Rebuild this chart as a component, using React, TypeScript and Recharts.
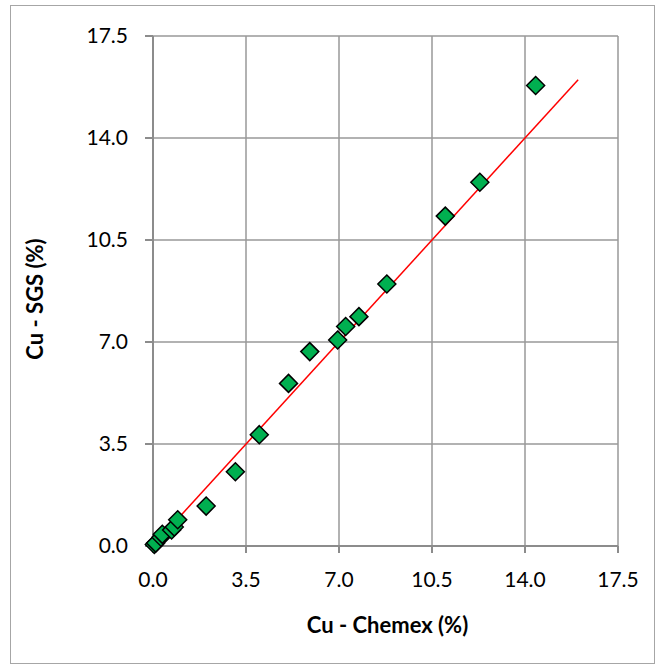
import React from "react"
import { ScatterChart, Scatter, XAxis, YAxis, CartesianGrid } from "recharts"

// Cu assays, Chemex (x) vs SGS (y), in %
const chemex = [0.05, 0.1, 0.3, 0.35, 0.7, 0.8, 0.93, 2.0, 3.1, 4.0, 5.1, 5.9, 6.95, 7.25, 7.75, 8.8, 11.0, 12.3, 14.4]
const sgs = [0.05, 0.1, 0.3, 0.4, 0.55, 0.65, 0.9, 1.37, 2.55, 3.82, 5.58, 6.67, 7.07, 7.53, 7.87, 8.99, 11.32, 12.48, 15.8]
const ticks = [0, 3.5, 7, 10.5, 14, 17.5]
const lineX = [0, 16]

const points = chemex.map((x, i) => ({ x, y: sgs[i] }))
const lineData = lineX.map((v) => ({ x: v, y: v }))

const FONT = "Lato, 'Open Sans', sans-serif"

const Diamond = (props: any) => {
  const { cx, cy } = props
  const r = 9
  return (
    <polygon
      points={`${cx},${cy - r} ${cx + r},${cy} ${cx},${cy + r} ${cx - r},${cy}`}
      fill="#00B050"
      stroke="#000"
      strokeWidth={1.5}
    />
  )
}

const YTitle = (props: any) => {
  const { viewBox } = props
  const x = 23
  const y = viewBox.y + viewBox.height / 2 + 8
  return (
    <text
      x={x}
      y={y}
      transform={`rotate(-90 ${x} ${y})`}
      textAnchor="middle"
      dominantBaseline="central"
      fontFamily={FONT}
      fontWeight="bold"
      fontSize={22}
      fill="#000"
    >
      Cu - SGS (%)
    </text>
  )
}

const XTitle = (props: any) => {
  const { viewBox } = props
  const x = viewBox.x + viewBox.width / 2 + 2
  const y = 618
  return (
    <text x={x} y={y} textAnchor="middle" dominantBaseline="central" fontFamily={FONT} fontWeight="bold" fontSize={22} fill="#000">
      Cu - Chemex (%)
    </text>
  )
}

const fmt = (v: number) => v.toFixed(1)

export default function App() {
  return (
    <div
      style={{
        position: "absolute",
        left: 10,
        top: 5,
        width: 643,
        height: 657,
        border: "1px solid #a6a6a6",
        background: "#fff",
      }}
    >
      <ScatterChart width={643} height={657} margin={{ top: 30, right: 36, bottom: 37, left: 0 }}>
        <CartesianGrid stroke="#999" strokeWidth={1.5} horizontalValues={ticks} verticalValues={ticks} />
        <XAxis
          type="number"
          dataKey="x"
          domain={[0, 17.5]}
          ticks={ticks}
          tickFormatter={fmt}
          height={80}
          stroke="#8c8c8c"
          strokeWidth={2}
          tickSize={7}
          tickMargin={19}
          tick={{ fill: "#000", fontSize: 21, fontFamily: FONT }}
          label={<XTitle />}
        />
        <YAxis
          type="number"
          dataKey="y"
          domain={[0, 17.5]}
          ticks={ticks}
          tickFormatter={fmt}
          width={142}
          stroke="#8c8c8c"
          strokeWidth={2}
          tickSize={8}
          tickMargin={17}
          tick={{ fill: "#000", fontSize: 21, fontFamily: FONT }}
          label={<YTitle />}
        />
        <Scatter
          data={lineData}
          line={{ stroke: "#ff0000", strokeWidth: 1.5 }}
          shape={() => <g />}
          isAnimationActive={false}
        />
        <Scatter data={points} shape={<Diamond />} isAnimationActive={false} />
      </ScatterChart>
    </div>
  )
}
